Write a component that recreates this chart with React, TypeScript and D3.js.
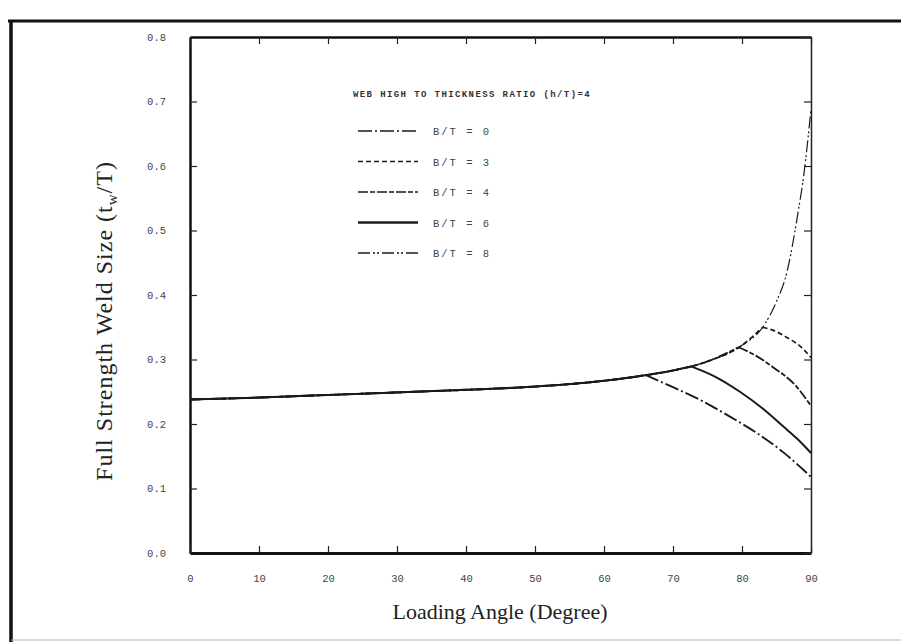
import React, { useEffect, useRef } from "react";
import * as d3 from "d3";

const angleTicks = [0, 10, 20, 30, 40, 50, 60, 70, 80, 90];
const sizeTicks = [0, 0.1, 0.2, 0.3, 0.4, 0.5, 0.6, 0.7, 0.8];

// common curve, B/T = 8 follows it all the way up
const envelopeAngles = [0, 10, 20, 30, 40, 50, 60, 65, 70, 75, 80, 83, 85, 86.5, 88, 89, 90];
const envelopeValues = [0.238, 0.241, 0.245, 0.249, 0.253, 0.258, 0.267, 0.274, 0.283, 0.297, 0.322, 0.35, 0.39, 0.435, 0.52, 0.59, 0.688];

// branches leaving the common curve
const bt0Angles = [66, 70, 74, 78, 82, 86, 90];
const bt0Values = [0.276, 0.257, 0.237, 0.213, 0.187, 0.156, 0.118];
const bt3Angles = [83, 85, 86.5, 88.5, 90];
const bt3Values = [0.35, 0.343, 0.334, 0.32, 0.303];
const bt4Angles = [79.5, 82, 84.5, 87.9, 90];
const bt4Values = [0.319, 0.306, 0.288, 0.258, 0.228];
const bt6Angles = [72.7, 76, 79.7, 83, 86, 88, 90];
const bt6Values = [0.289, 0.274, 0.25, 0.224, 0.196, 0.177, 0.155];

const legendTitle = "WEB HIGH TO THICKNESS RATIO (h/T)=4";
const seriesLabels = ["B/T = 0", "B/T = 3", "B/T = 4", "B/T = 6", "B/T = 8"];

type Pt = [number, number];

// the part of the common curve up to where a branch leaves it
function envelopeUpTo(start: number, startValue: number): Pt[] {
  const pts: Pt[] = [];
  envelopeAngles.forEach((a, i) => {
    if (a < start) pts.push([a, envelopeValues[i]]);
  });
  pts.push([start, startValue]);
  return pts;
}

function zip(angles: number[], values: number[]): Pt[] {
  return angles.map((a, i) => [a, values[i]] as Pt);
}

const series = [
  { label: seriesLabels[0], parts: [envelopeUpTo(bt0Angles[0], bt0Values[0]), zip(bt0Angles, bt0Values)], dash: "14,3,2,3", w: 1.9 },
  { label: seriesLabels[1], parts: [envelopeUpTo(bt3Angles[0], bt3Values[0]), zip(bt3Angles, bt3Values)], dash: "5,3", w: 1.7 },
  { label: seriesLabels[2], parts: [envelopeUpTo(bt4Angles[0], bt4Values[0]), zip(bt4Angles, bt4Values)], dash: "10,2,5,2", w: 1.8 },
  { label: seriesLabels[3], parts: [envelopeUpTo(bt6Angles[0], bt6Values[0]), zip(bt6Angles, bt6Values)], dash: null, w: 2 },
  { label: seriesLabels[4], parts: [zip(envelopeAngles, envelopeValues)], dash: "12,3,2,2,2,3", w: 1.2 },
];

export default function App() {
  const ref = useRef<SVGSVGElement>(null);

  useEffect(() => {
    const svg = d3.select(ref.current);
    svg.selectAll("*").remove();

    const x = d3.scaleLinear().domain([0, 90]).range([190, 811]);
    const y = d3.scaleLinear().domain([0, 0.8]).range([553, 37]);
    const tickFont = "'Liberation Mono', 'DejaVu Sans Mono', monospace";
    const serif = "'Liberation Serif', 'Times New Roman', serif";

    // outer frame of the scanned page
    svg.append("line").attr("x1", 8).attr("x2", 901).attr("y1", 21).attr("y2", 21)
      .attr("stroke", "#111").attr("stroke-width", 3);
    svg.append("line").attr("x1", 11).attr("x2", 11).attr("y1", 20).attr("y2", 642)
      .attr("stroke", "#111").attr("stroke-width", 3.5);
    svg.append("line").attr("x1", 11).attr("x2", 901).attr("y1", 640).attr("y2", 640)
      .attr("stroke", "#bbb").attr("stroke-width", 1);

    const left = svg.append("g").attr("transform", "translate(190,0)")
      .call(d3.axisLeft(y).tickValues(sizeTicks).tickFormat(d3.format(".1f") as any)
        .tickSizeInner(-7).tickSizeOuter(0).tickPadding(24));
    const bottom = svg.append("g").attr("transform", "translate(0,553)")
      .call(d3.axisBottom(x).tickValues(angleTicks).tickFormat(d3.format("d") as any)
        .tickSizeInner(-7).tickSizeOuter(0).tickPadding(22));
    const top = svg.append("g").attr("transform", "translate(0,37)")
      .call(d3.axisTop(x).tickValues(angleTicks).tickFormat(() => "")
        .tickSizeInner(-7).tickSizeOuter(0));
    const right = svg.append("g").attr("transform", "translate(811,0)")
      .call(d3.axisRight(y).tickValues(sizeTicks).tickFormat(() => "")
        .tickSizeInner(-7).tickSizeOuter(0));

    [left, bottom, top, right].forEach((g) => {
      g.selectAll("text").attr("font-family", tickFont).attr("font-size", 10.5).attr("fill", "#444");
      g.selectAll(".tick line").attr("stroke", "#222").attr("stroke-width", 1.2);
    });
    left.select(".domain").attr("stroke", "#111").attr("stroke-width", 2.5);
    bottom.select(".domain").attr("stroke", "#111").attr("stroke-width", 3);
    top.select(".domain").attr("stroke", "#111").attr("stroke-width", 2.5);
    right.select(".domain").attr("stroke", "#222").attr("stroke-width", 1.5);

    const line = d3.line<Pt>()
      .x((d) => x(d[0]))
      .y((d) => y(d[1]))
      .curve(d3.curveMonotoneX);

    // thin ones first so the solid one sits on top
    const order = [4, 1, 2, 0, 3];
    order.forEach((i) => {
      const s = series[i];
      svg.append("path")
        .attr("d", s.parts.map((p) => line(p)).join(""))
        .attr("fill", "none")
        .attr("stroke", "#1a1a1a")
        .attr("stroke-width", s.w)
        .attr("stroke-dasharray", s.dash);
    });

    // legend
    const legend = svg.append("g").attr("transform", "translate(353,0)");
    legend.append("text")
      .attr("x", 0).attr("y", 97)
      .attr("font-family", tickFont).attr("font-size", 9).attr("font-weight", "bold")
      .attr("letter-spacing", 1.4).attr("fill", "#333")
      .text(legendTitle);
    const rows = legend.selectAll(".row").data(series).join("g")
      .attr("class", "row")
      .attr("transform", (d, i) => `translate(0, ${131 + i * 30.5})`);
    rows.append("line")
      .attr("x1", 5).attr("x2", 65).attr("y1", 0).attr("y2", 0)
      .attr("stroke", "#1a1a1a")
      .attr("stroke-width", (d) => (d.dash ? 1.6 : 2.4))
      .attr("stroke-dasharray", (d) => d.dash);
    rows.append("text")
      .attr("x", 80).attr("y", 4)
      .attr("font-family", tickFont).attr("font-size", 10.5)
      .attr("letter-spacing", 2).attr("fill", "#444")
      .text((d) => d.label);

    // axis titles
    svg.append("text")
      .attr("x", 500).attr("y", 619)
      .attr("text-anchor", "middle")
      .attr("font-family", serif)
      .attr("font-size", 22).attr("fill", "#222")
      .text("Loading Angle (Degree)");

    const yt = svg.append("text")
      .attr("transform", "translate(112,321) rotate(-90)")
      .attr("text-anchor", "middle")
      .attr("font-family", serif)
      .attr("font-size", 24).attr("letter-spacing", 1)
      .attr("fill", "#222");
    yt.append("tspan").text("Full Strength Weld Size (t");
    yt.append("tspan").attr("font-size", 15).attr("dy", 5).text("w");
    yt.append("tspan").attr("dy", -5).text("/T)");
  }, []);

  return (
    <svg
      ref={ref}
      width={901}
      height={642}
      style={{ position: "absolute", left: 0, top: 0, background: "#fff" }}
    />
  );
}
